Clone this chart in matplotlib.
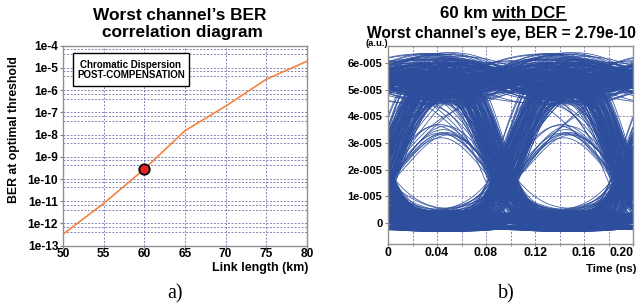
import math
import numpy as np
import matplotlib
matplotlib.use("Agg")
import matplotlib.pyplot as plt
from matplotlib.collections import LineCollection
from matplotlib.patches import Rectangle
from matplotlib.ticker import FixedLocator, FixedFormatter, NullFormatter

plt.rcParams['font.family'] = ['Liberation Sans', 'DejaVu Sans']
plt.rcParams['font.weight'] = 'bold'

# ---------------- panel a) : BER vs link length ----------------
link_km = [50, 55, 60, 65, 70, 75, 80]
ber = [3.3e-13, 8e-12, 2.79e-10, 1.5e-8, 1.9e-7, 3.1e-6, 2.0e-5]
mark_km = 60
mark_ber = 2.79e-10
ber_ticks = [1e-13, 1e-12, 1e-11, 1e-10, 1e-9, 1e-8, 1e-7, 1e-6, 1e-5, 1e-4]
ber_labels = ['1e-13', '1e-12', '1e-11', '1e-10', '1e-9', '1e-8', '1e-7', '1e-6', '1e-5', '1e-4']
km_ticks = [50, 55, 60, 65, 70, 75, 80]

# ---------------- panel b) : eye diagram ----------------
# bit stream seen by the scope and per-bit noise / jitter tables
bits = [1, 1, 0, 0, 0, 1, 1, 1, 0, 0, 1, 1, 0, 0, 0, 0, 1, 1, 1, 1, 0, 0, 1, 1, 0, 1, 1, 0, 0, 0, 1, 1,
        1, 0, 0, 1, 1, 1, 1, 0, 0, 0, 1, 1, 0, 0, 1, 0, 0, 1, 1, 1, 0, 0, 0, 1, 1, 0, 0, 1, 1, 1, 0, 0]
noise_a = [0.62, -0.35, 0.91, -0.78, 0.14, -0.05, 0.47, -0.93, 0.28, 0.80, -0.61, 0.03, -0.22, 0.69,
           -0.47, 0.95, -0.86, 0.36, -0.14, 0.55, -0.70, 0.21, 0.88, -0.30, -0.99, 0.41, 0.07, -0.55,
           0.76, -0.18, 0.50, -0.83, 0.12, 0.99, -0.40, 0.33, -0.66]
noise_b = [-0.27, 0.73, -0.90, 0.18, 0.52, -0.44, 0.97, -0.08, -0.63, 0.35, 0.84, -0.75, 0.02, -0.51,
           0.66, -0.97, 0.24, 0.45, -0.19, 0.89, -0.36, -0.82, 0.11, 0.58, -0.68, 0.79, -0.03, 0.30, -0.57]
jitter = [0.4, -0.8, 0.1, 0.9, -0.3, -0.6, 0.7, 0.0, -0.95, 0.55, -0.15, 0.85, -0.5, 0.25, -0.7, 0.6,
          -0.05, 0.95, -0.4, 0.3, -0.85, 0.75, -0.2]
eye_yticks = [0, 1e-5, 2e-5, 3e-5, 4e-5, 5e-5, 6e-5]
eye_ylabels = ['0', '1e-005', '2e-005', '3e-005', '4e-005', '5e-005', '6e-005']
time_ticks = [0, 0.04, 0.08, 0.12, 0.16, 0.20]
time_labels = ['0', '0.04', '0.08', '0.12', '0.16', '0.20']
time_minor = [0.02, 0.06, 0.10, 0.14, 0.18]

T = 0.1          # bit period (ns)
t0 = -0.006      # first bit boundary in the window
sigma = 0.02
p_one = 5.33e-5
n_pass = 10
w_iso = 0.068    # width of an isolated pulse / dip
a_one = 0.785    # peak of an isolated 1 (field)
d_zero = 0.83    # depth of an isolated 0 (field)

fig = plt.figure(figsize=(6.41, 3.08), dpi=100)
W, H = 641.0, 308.0

def box(l, t, r, b):
    return [l / W, 1 - b / H, (r - l) / W, (b - t) / H]

grid_kw = dict(color='#8585b5', linestyle=(0, (2, 1.6)), linewidth=0.7)

# ---- a)
ax1 = fig.add_axes(box(63, 45.7, 307, 245.7))
ax1.set_yscale('log')
ax1.plot(link_km, ber, color='#f5823f', lw=1.2, zorder=3)
ax1.plot([mark_km], [mark_ber], 'o', ms=7.5, mfc='#e82127', mec='black', mew=1.3, zorder=4)
ax1.set_xlim(50, 80)
ax1.set_ylim(1e-13, 1e-4)
ax1.yaxis.set_major_locator(FixedLocator(ber_ticks))
ax1.yaxis.set_major_formatter(FixedFormatter(ber_labels))
minor = []
for v in ber_ticks[1:]:
    minor += [v * 0.42, v * 0.7]
ax1.yaxis.set_minor_locator(FixedLocator(minor))
ax1.yaxis.set_minor_formatter(NullFormatter())
ax1.xaxis.set_major_locator(FixedLocator(km_ticks))
ax1.grid(True, which='both', **grid_kw)
ax1.set_axisbelow(True)
ax1.tick_params(axis='y', which='major', labelsize=8.6, length=2, pad=1.5, color='#808080')
ax1.tick_params(axis='x', which='major', labelsize=8.6, length=1.5, pad=0.3, color='#808080')
ax1.tick_params(axis='y', which='minor', length=0)
for s in ax1.spines.values():
    s.set_color('#909090')
    s.set_linewidth(1.0)

fig.text(180 / W, 1 - 20.5 / H, "Worst channel\u2019s BER", ha='center', va='baseline', fontsize=12.4)
fig.text(182 / W, 1 - 37 / H, "correlation diagram", ha='center', va='baseline', fontsize=12.4)
fig.text(14.5 / W, 1 - 130 / H, "BER at optimal threshold", rotation=90, ha='center', va='center',
         fontsize=8.8)
fig.text(308 / W, 1 - 268.5 / H, "Link length (km)", ha='right', va='center', fontsize=8.9)
fig.add_artist(Rectangle((73 / W, 1 - 86 / H), 116 / W, 33 / H, transform=fig.transFigure,
                         fc='white', ec='black', lw=1.0, zorder=5))
fig.text(131 / W, 1 - 64.5 / H, "Chromatic Dispersion", ha='center', va='center', fontsize=7, zorder=6)
fig.text(131 / W, 1 - 75.5 / H, "POST-COMPENSATION", ha='center', va='center', fontsize=7, zorder=6)
fig.text(175 / W, 1 - 294 / H, "a)", ha='center', va='center', fontsize=14.5,
         family='Liberation Serif', weight='normal')

# ---- b)
ax2 = fig.add_axes(box(388, 46, 633, 244))
erf = np.vectorize(math.erf)
t = np.linspace(0, 0.2, 320)
nb = len(bits)

# isolated bits (010 / 101) do not reach the full level
iso_flag = []
for k in range(nb):
    b = bits[k]
    iso_flag.append(bits[k - 1] != b and bits[(k + 1) % nb] != b)

segs = []
for p in range(n_pass):
    for i in range(nb):
        ks = [(i - 1 + j) % nb for j in range(4)]
        bnd = []
        for m in range(1, 4):
            k = ks[m]
            bnd.append(t0 + (m - 1) * T + 0.0105 * jitter[(k + 5 * p) % len(jitter)])
        E = [0.5 * (1 + erf((t - bb) / (sigma * math.sqrt(2)))) for bb in bnd]
        g = [1 - E[0], E[0] - E[1], E[1] - E[2], E[2]]
        centers = [bnd[0] - T / 2, (bnd[0] + bnd[1]) / 2, (bnd[1] + bnd[2]) / 2, bnd[2] + T / 2]
        field = np.zeros_like(t)
        add = np.zeros_like(t)
        for j in range(4):
            k = ks[j]
            na = noise_a[(k + 11 * p) % len(noise_a)]
            nbv = noise_b[(3 * k + 7 * p) % len(noise_b)]
            if iso_flag[k]:
                G = np.exp(-((t - centers[j]) / w_iso) ** 2)
                if bits[k]:
                    field += a_one * (1 + 0.03 * na) * G
                else:
                    field += g[j] - d_zero * (1 + 0.05 * na) * G
                add += (0.07e-5 + 0.2e-5 * nbv) * g[j]
            else:
                field += bits[k] * (1 + 0.07 * na) * g[j]
                add += (0.07e-5 + 0.4e-5 * nbv) * g[j]
        y = p_one * np.abs(field) ** 1.8 + add
        segs.append(np.column_stack([t, y]))

lc = LineCollection(segs, colors='#2d4e9d', linewidths=0.6, alpha=0.9, zorder=2)
ax2.add_collection(lc)
ax2.set_xlim(0, 0.2)
ax2.set_ylim(-0.79e-5, 6.64e-5)
ax2.yaxis.set_major_locator(FixedLocator(eye_yticks))
ax2.yaxis.set_major_formatter(FixedFormatter(eye_ylabels))
ax2.xaxis.set_major_locator(FixedLocator(time_ticks))
ax2.xaxis.set_major_formatter(FixedFormatter(time_labels))
ax2.xaxis.set_minor_locator(FixedLocator(time_minor))
ax2.grid(True, which='both', **grid_kw)
ax2.set_axisbelow(True)
ax2.tick_params(axis='y', labelsize=8, length=2, pad=2, color='#808080')
ax2.tick_params(axis='x', which='major', labelsize=8.8, length=1.5, pad=0.3, color='#808080')
ax2.tick_params(axis='x', which='minor', length=1.5, color='#808080')
ax2.get_xticklabels()[-1].set_horizontalalignment('right')
for s in ax2.spines.values():
    s.set_color('#909090')
    s.set_linewidth(1.0)

t1 = fig.text(503 / W, 1 - 18.3 / H, "60 km with DCF", ha='center', va='baseline', fontsize=12.2)
fig.text(501 / W, 1 - 37.7 / H, "Worst channel\u2019s eye, BER = 2.79e-10", ha='center', va='baseline',
         fontsize=11.2)
fig.text(377 / W, 1 - 44 / H, "(a.u.)", ha='center', va='center', fontsize=6.8)
fig.text(636 / W, 1 - 268.5 / H, "Time (ns)", ha='right', va='center', fontsize=8.2)
fig.text(506 / W, 1 - 294 / H, "b)", ha='center', va='center', fontsize=14.5,
         family='Liberation Serif', weight='normal')

# underline "with DCF"
fig.canvas.draw()
r = fig.canvas.get_renderer()
bb = t1.get_window_extent(r)
tmp = fig.text(0, 0, "with DCF", fontsize=12.2)
wpx = tmp.get_window_extent(r).width
tmp.remove()
yl = 1 - 20.2 / H
fig.add_artist(plt.Line2D([(bb.x1 - wpx) / W, bb.x1 / W], [yl, yl], transform=fig.transFigure,
                          color='black', lw=1.2))

fig.savefig('out.png', dpi=100)
